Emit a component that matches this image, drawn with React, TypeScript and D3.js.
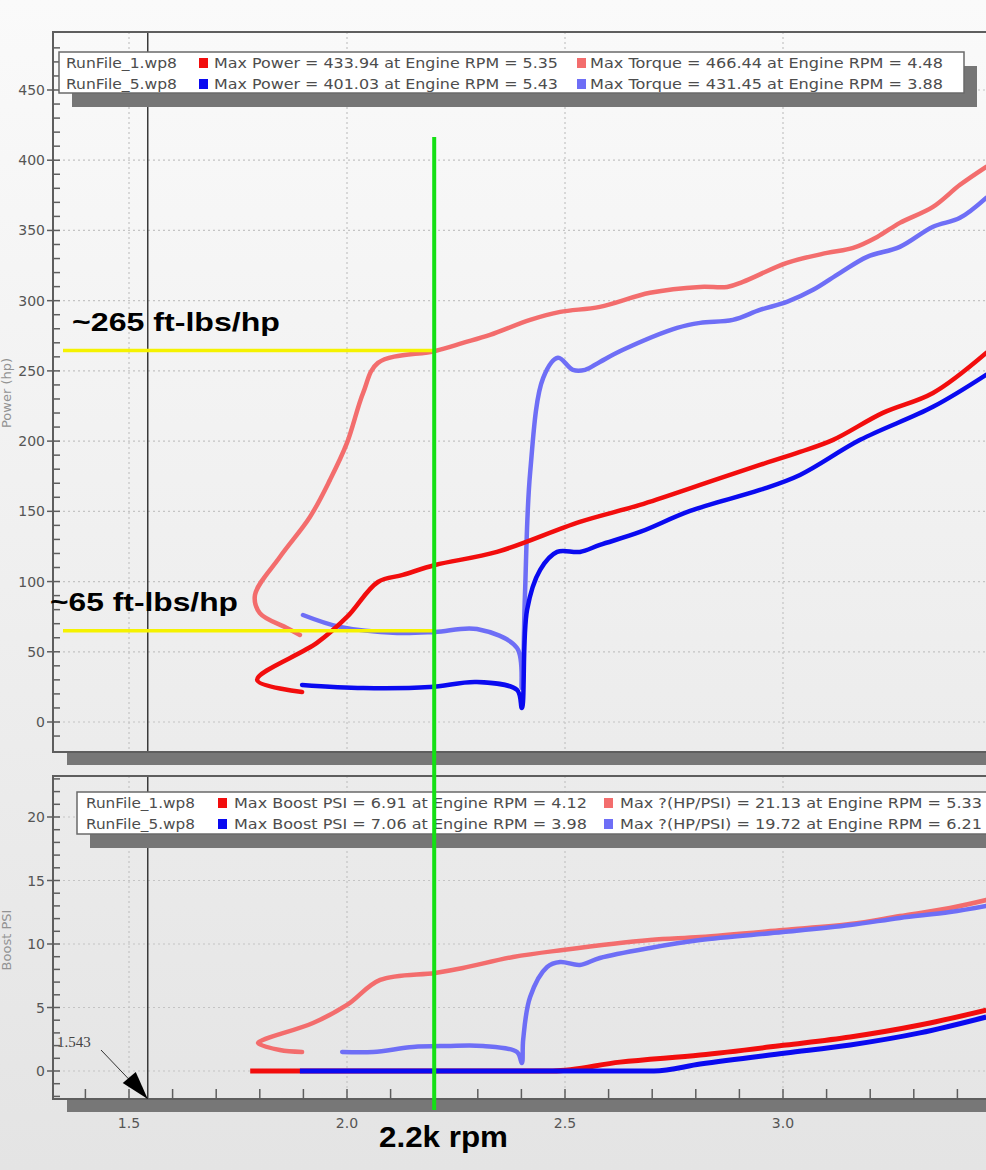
import React from 'react';
import * as d3 from 'd3';

// ---------- DATA (x = Engine RPM in thousands) ----------
const powerRun1: [number, number][] = [
  [1.897, 21.4], [1.794, 29.9], [1.931, 56.3], [2.0, 74.8], [2.071, 99.7], [2.128, 104.7],
  [2.202, 111.8], [2.344, 121.1], [2.534, 142.5], [2.672, 154.6], [2.81, 168.8], [2.947, 183.0],
  [3.039, 192.3], [3.115, 200.9], [3.229, 220.1], [3.344, 234.3], [3.466, 262.8],
];
const powerRun5: [number, number][] = [
  [1.897, 26.4], [2.037, 24.2], [2.19, 24.9], [2.298, 28.5], [2.39, 22.8], [2.401, 10.0],
  [2.413, 79.8], [2.443, 108.3], [2.482, 121.1], [2.534, 121.1], [2.58, 126.1], [2.672, 135.3],
  [2.787, 150.3], [2.947, 165.2], [3.039, 175.9], [3.177, 200.9], [3.344, 224.4], [3.466, 247.2],
];
const torqueRun1: [number, number][] = [
  [1.892, 62.0], [1.862, 67.0], [1.8, 77.6], [1.789, 90.5], [1.846, 117.5], [1.915, 146.0],
  [1.961, 172.4], [2.0, 198.7], [2.037, 234.3], [2.071, 255.7], [2.202, 264.2], [2.266, 269.9],
  [2.328, 275.6], [2.42, 286.3], [2.489, 292.0], [2.58, 295.6], [2.695, 305.6], [2.81, 309.8],
  [2.872, 309.8], [2.908, 313.4], [3.009, 326.9], [3.101, 334.0], [3.161, 337.6], [3.216, 345.4],
  [3.268, 355.4], [3.344, 366.8], [3.406, 382.5], [3.466, 395.3],
];
const torqueRun5: [number, number][] = [
  [1.899, 76.2], [1.984, 67.7], [2.115, 63.4], [2.202, 64.1], [2.298, 66.2], [2.39, 52.7],
  [2.401, 24.2], [2.408, 89.0], [2.42, 177.4], [2.45, 245.0], [2.484, 259.3], [2.518, 250.7],
  [2.546, 250.7], [2.58, 256.4], [2.633, 265.0], [2.757, 280.6], [2.81, 284.2], [2.885, 286.3],
  [2.947, 293.4], [3.009, 299.1], [3.069, 307.7], [3.131, 319.8], [3.193, 331.2], [3.268, 338.3],
  [3.344, 352.6], [3.406, 359.0], [3.466, 373.2],
];
const boostRun1: [number, number][] = [
  [1.778, 0], [2.472, 0], [2.626, 0.7], [2.81, 1.26], [3.007, 2.05], [3.154, 2.68], [3.314, 3.62], [3.466, 4.8],
];
const boostRun5: [number, number][] = [
  [1.892, 0], [2.704, 0], [2.81, 0.55], [3.007, 1.42], [3.154, 2.05], [3.314, 3.0], [3.466, 4.25],
];
const hpPsiRun1: [number, number][] = [
  [1.897, 1.5], [1.846, 1.65], [1.796, 2.2], [1.807, 2.44], [1.922, 3.78], [2.0, 5.2], [2.076, 7.17],
  [2.202, 7.72], [2.266, 8.11], [2.381, 8.98], [2.495, 9.53], [2.695, 10.31], [2.81, 10.55],
  [3.0, 11.1], [3.154, 11.57], [3.268, 12.2], [3.383, 12.83], [3.466, 13.46],
];
const hpPsiRun5: [number, number][] = [
  [1.989, 1.5], [2.06, 1.5], [2.151, 1.89], [2.229, 1.97], [2.312, 1.97], [2.39, 1.5], [2.401, 0.63],
  [2.404, 2.44], [2.42, 5.83], [2.459, 8.19], [2.489, 8.58], [2.534, 8.35], [2.58, 8.9], [2.695, 9.69],
  [2.81, 10.31], [3.0, 10.94], [3.154, 11.5], [3.268, 12.05], [3.383, 12.52], [3.466, 13.0],
];

const xTickLabels = ['1.5', '2.0', '2.5', '3.0'];
const topYLabels = [0, 50, 100, 150, 200, 250, 300, 350, 400, 450];
const botYLabels = [0, 5, 10, 15, 20];
const runFiles = ['RunFile_1.wp8', 'RunFile_5.wp8'];
const topLegend1 = ['Max Power = 433.94 at Engine RPM = 5.35', 'Max Power = 401.03 at Engine RPM = 5.43'];
const topLegend2 = ['Max Torque = 466.44 at Engine RPM = 4.48', 'Max Torque = 431.45 at Engine RPM = 3.88'];
const botLegend1 = ['Max Boost PSI = 6.91 at Engine RPM = 4.12', 'Max Boost PSI = 7.06 at Engine RPM = 3.98'];
const botLegend2 = ['Max ?(HP/PSI) = 21.13 at Engine RPM = 5.33', 'Max ?(HP/PSI) = 19.72 at Engine RPM = 6.21'];
const cursorRpm = 1.543;
const markRpm = 2.2;
const markValues = [264.5, 65];
const markLabels = ['~265 ft-lbs/hp', '~65 ft-lbs/hp'];

const RED = '#f20d0d';
const BLUE = '#0a0af0';
const LRED = '#f36d6d';
const LBLUE = '#6e6ef6';

export default function App() {
  const W = 986, H = 1170;
  const x = d3.scaleLinear().domain([1.5, 3.0]).range([129, 783]);
  const yTop = d3.scaleLinear().domain([0, 450]).range([722, 90]);
  const yBot = d3.scaleLinear().domain([0, 20]).range([1071, 817]);
  const curve = d3.curveCatmullRom.alpha(0.5);
  const lineTop = d3.line<[number, number]>().x(d => x(d[0])).y(d => yTop(d[1])).curve(curve);
  const lineBot = d3.line<[number, number]>().x(d => x(d[0])).y(d => yBot(d[1])).curve(curve);
  const lineBoost = d3.line<[number, number]>().x(d => x(d[0])).y(d => yBot(d[1])).curve(d3.curveMonotoneX);

  const fL = 53, fR = 1010;
  const top = { y0: 32, y1: 752 };
  const bot = { y0: 776, y1: 1099 };

  const xTicks = d3.range(14, 36).map(i => i / 10);
  const xGrid = [1.5, 2.0, 2.5, 3.0];
  const topTicks = d3.range(-20, 500, 10).filter(v => yTop(v) > top.y0 + 2 && yTop(v) < top.y1 - 2);
  const botTicks = d3.range(-2, 24, 1).filter(v => yBot(v) > bot.y0 + 2 && yBot(v) < bot.y1 - 2);

  const font = 'DejaVu Sans, Verdana, sans-serif';
  const textCol = '#4d4d4d';

  const legend = (bx: number, by: number, bw: number, bh: number, cols: number[], texts: string[][], lens: number[], colors: string[][]) => (
    <g>
      <rect x={bx + 13} y={by + 14} width={bw} height={bh} fill="#767676" />
      <rect x={bx} y={by} width={bw} height={bh} fill="#ffffff" stroke="#6a6a6a" strokeWidth={1.5} />
      {[0, 1].map(r => {
        const base = by + 16 + r * 21;
        return (
          <g key={r}>
            <text x={cols[0]} y={base} fontFamily={font} fontSize={14} fill={textCol} textLength={lens[0]} lengthAdjust="spacingAndGlyphs">{runFiles[r]}</text>
            <rect x={cols[1]} y={base - 10} width={9} height={10} fill={colors[0][r]} />
            <text x={cols[2]} y={base} fontFamily={font} fontSize={14} fill={textCol} textLength={lens[1]} lengthAdjust="spacingAndGlyphs">{texts[0][r]}</text>
            <rect x={cols[3]} y={base - 10} width={9} height={10} fill={colors[1][r]} />
            <text x={cols[4]} y={base} fontFamily={font} fontSize={14} fill={textCol} textLength={lens[2]} lengthAdjust="spacingAndGlyphs">{texts[1][r]}</text>
          </g>
        );
      })}
    </g>
  );

  const panelFrame = (p: { y0: number; y1: number }, yScale: d3.ScaleLinear<number, number>, ticks: number[], majors: number[]) => (
    <g>
      {majors.map(v => (
        <line key={'h' + v} x1={fL} x2={fR} y1={yScale(v)} y2={yScale(v)} stroke="#c4c4c4" strokeWidth={1.2} strokeDasharray="2,3" />
      ))}
      {xGrid.map(v => (
        <line key={'v' + v} x1={x(v)} x2={x(v)} y1={p.y0} y2={p.y1} stroke="#c4c4c4" strokeWidth={1.2} strokeDasharray="2,3" />
      ))}
      <line x1={x(cursorRpm)} x2={x(cursorRpm)} y1={p.y0} y2={p.y1} stroke="#3a3a3a" strokeWidth={1.5} />
      <rect x={67} y={p.y1} width={W} height={13} fill="#777777" />
      <rect x={fL} y={p.y0} width={fR - fL} height={p.y1 - p.y0} fill="none" stroke="#5e5e5e" strokeWidth={2} />
      {ticks.map(v => {
        const isMajor = majors.includes(v);
        return (
          <line key={'t' + v} x1={isMajor ? fL - 6 : fL} x2={fL + 7} y1={yScale(v)} y2={yScale(v)} stroke="#5e5e5e" strokeWidth={1.5} />
        );
      })}
      {majors.map(v => (
        <text key={'l' + v} x={fL - 8} y={yScale(v) + 5} textAnchor="end" fontFamily={font} fontSize={14} fill="#555">{v}</text>
      ))}
    </g>
  );

  return (
    <svg width={W} height={H} style={{ position: 'absolute', left: 0, top: 0 }} xmlns="http://www.w3.org/2000/svg">
      <defs>
        <linearGradient id="bg" x1="0" y1="0" x2="0" y2="1">
          <stop offset="0" stopColor="#fafafa" />
          <stop offset="0.5" stopColor="#efefef" />
          <stop offset="1" stopColor="#e4e4e4" />
        </linearGradient>
      </defs>
      <rect x={0} y={0} width={W} height={H} fill="url(#bg)" />

      {panelFrame(top, yTop, topTicks, topYLabels)}
      {panelFrame(bot, yBot, botTicks, botYLabels)}

      {xTicks.map(v => (
        <line key={'xt' + v} x1={x(v)} x2={x(v)} y1={bot.y1 - 10} y2={bot.y1} stroke="#5e5e5e" strokeWidth={1.5} />
      ))}
      {xTickLabels.map(s => (
        <text key={'xl' + s} x={x(+s)} y={1128} textAnchor="middle" fontFamily={font} fontSize={14} fill="#555">{s}</text>
      ))}

      <text transform="translate(11,393) rotate(-90)" textAnchor="middle" fontFamily={font} fontSize={13} fill="#939393">Power (hp)</text>
      <text transform="translate(11,940) rotate(-90)" textAnchor="middle" fontFamily={font} fontSize={13} fill="#939393">Boost PSI</text>

      <g fill="none" strokeLinejoin="round" strokeLinecap="round">
        <path d={lineTop(torqueRun1) || ''} stroke={LRED} strokeWidth={4.5} />
        <path d={lineTop(torqueRun5) || ''} stroke={LBLUE} strokeWidth={4.5} />
        <path d={lineTop(powerRun1) || ''} stroke={RED} strokeWidth={4.5} />
        <path d={lineTop(powerRun5) || ''} stroke={BLUE} strokeWidth={4.5} />
      </g>

      <g fill="none" strokeLinejoin="round" strokeLinecap="round">
        <path d={lineBot(hpPsiRun1) || ''} stroke={LRED} strokeWidth={4.5} />
        <path d={lineBot(hpPsiRun5) || ''} stroke={LBLUE} strokeWidth={4.5} />
        <path d={lineBoost(boostRun1) || ''} stroke={RED} strokeWidth={5} strokeLinecap="butt" />
        <path d={lineBoost(boostRun5) || ''} stroke={BLUE} strokeWidth={5} strokeLinecap="butt" />
      </g>

      {legend(59, 52, 905, 41, [66, 199, 214, 577, 590], [topLegend1, topLegend2], [111, 344, 353], [[RED, BLUE], [LRED, LBLUE]])}
      {legend(77, 792, 940, 42, [86, 218, 234, 604, 620], [botLegend1, botLegend2], [109, 353, 362], [[RED, BLUE], [LRED, LBLUE]])}

      <text x={57} y={1047} fontFamily="Liberation Serif, serif" fontSize={15} fill="#444">{cursorRpm.toFixed(3)}</text>
      <line x1={101} y1={1050} x2={x(cursorRpm)} y2={bot.y1} stroke="#333" strokeWidth={1} />
      <path d={`M${x(cursorRpm)},${bot.y1} L${x(cursorRpm) - 25},${bot.y1 - 16} L${x(cursorRpm) - 12},${bot.y1 - 27} Z`} fill="#000" />

      {markValues.map((v, i) => (
        <line key={'y' + i} x1={63} x2={x(markRpm)} y1={yTop(v)} y2={yTop(v)} stroke="#f5f200" strokeWidth={3.5} />
      ))}
      <line x1={x(markRpm)} x2={x(markRpm)} y1={137} y2={1110} stroke="#14e014" strokeWidth={4} />
      <text x={72} y={331} fontFamily="Liberation Sans, Arial, sans-serif" fontWeight="bold" fontSize={26} fill="#000" textLength={208} lengthAdjust="spacingAndGlyphs">{markLabels[0]}</text>
      <text x={50} y={611} fontFamily="Liberation Sans, Arial, sans-serif" fontWeight="bold" fontSize={26} fill="#000" textLength={188} lengthAdjust="spacingAndGlyphs">{markLabels[1]}</text>
      <text x={379} y={1147} fontFamily="Liberation Sans, Arial, sans-serif" fontWeight="bold" fontSize={29} fill="#000" textLength={129} lengthAdjust="spacingAndGlyphs">{markRpm}k rpm</text>
    </svg>
  );
}
